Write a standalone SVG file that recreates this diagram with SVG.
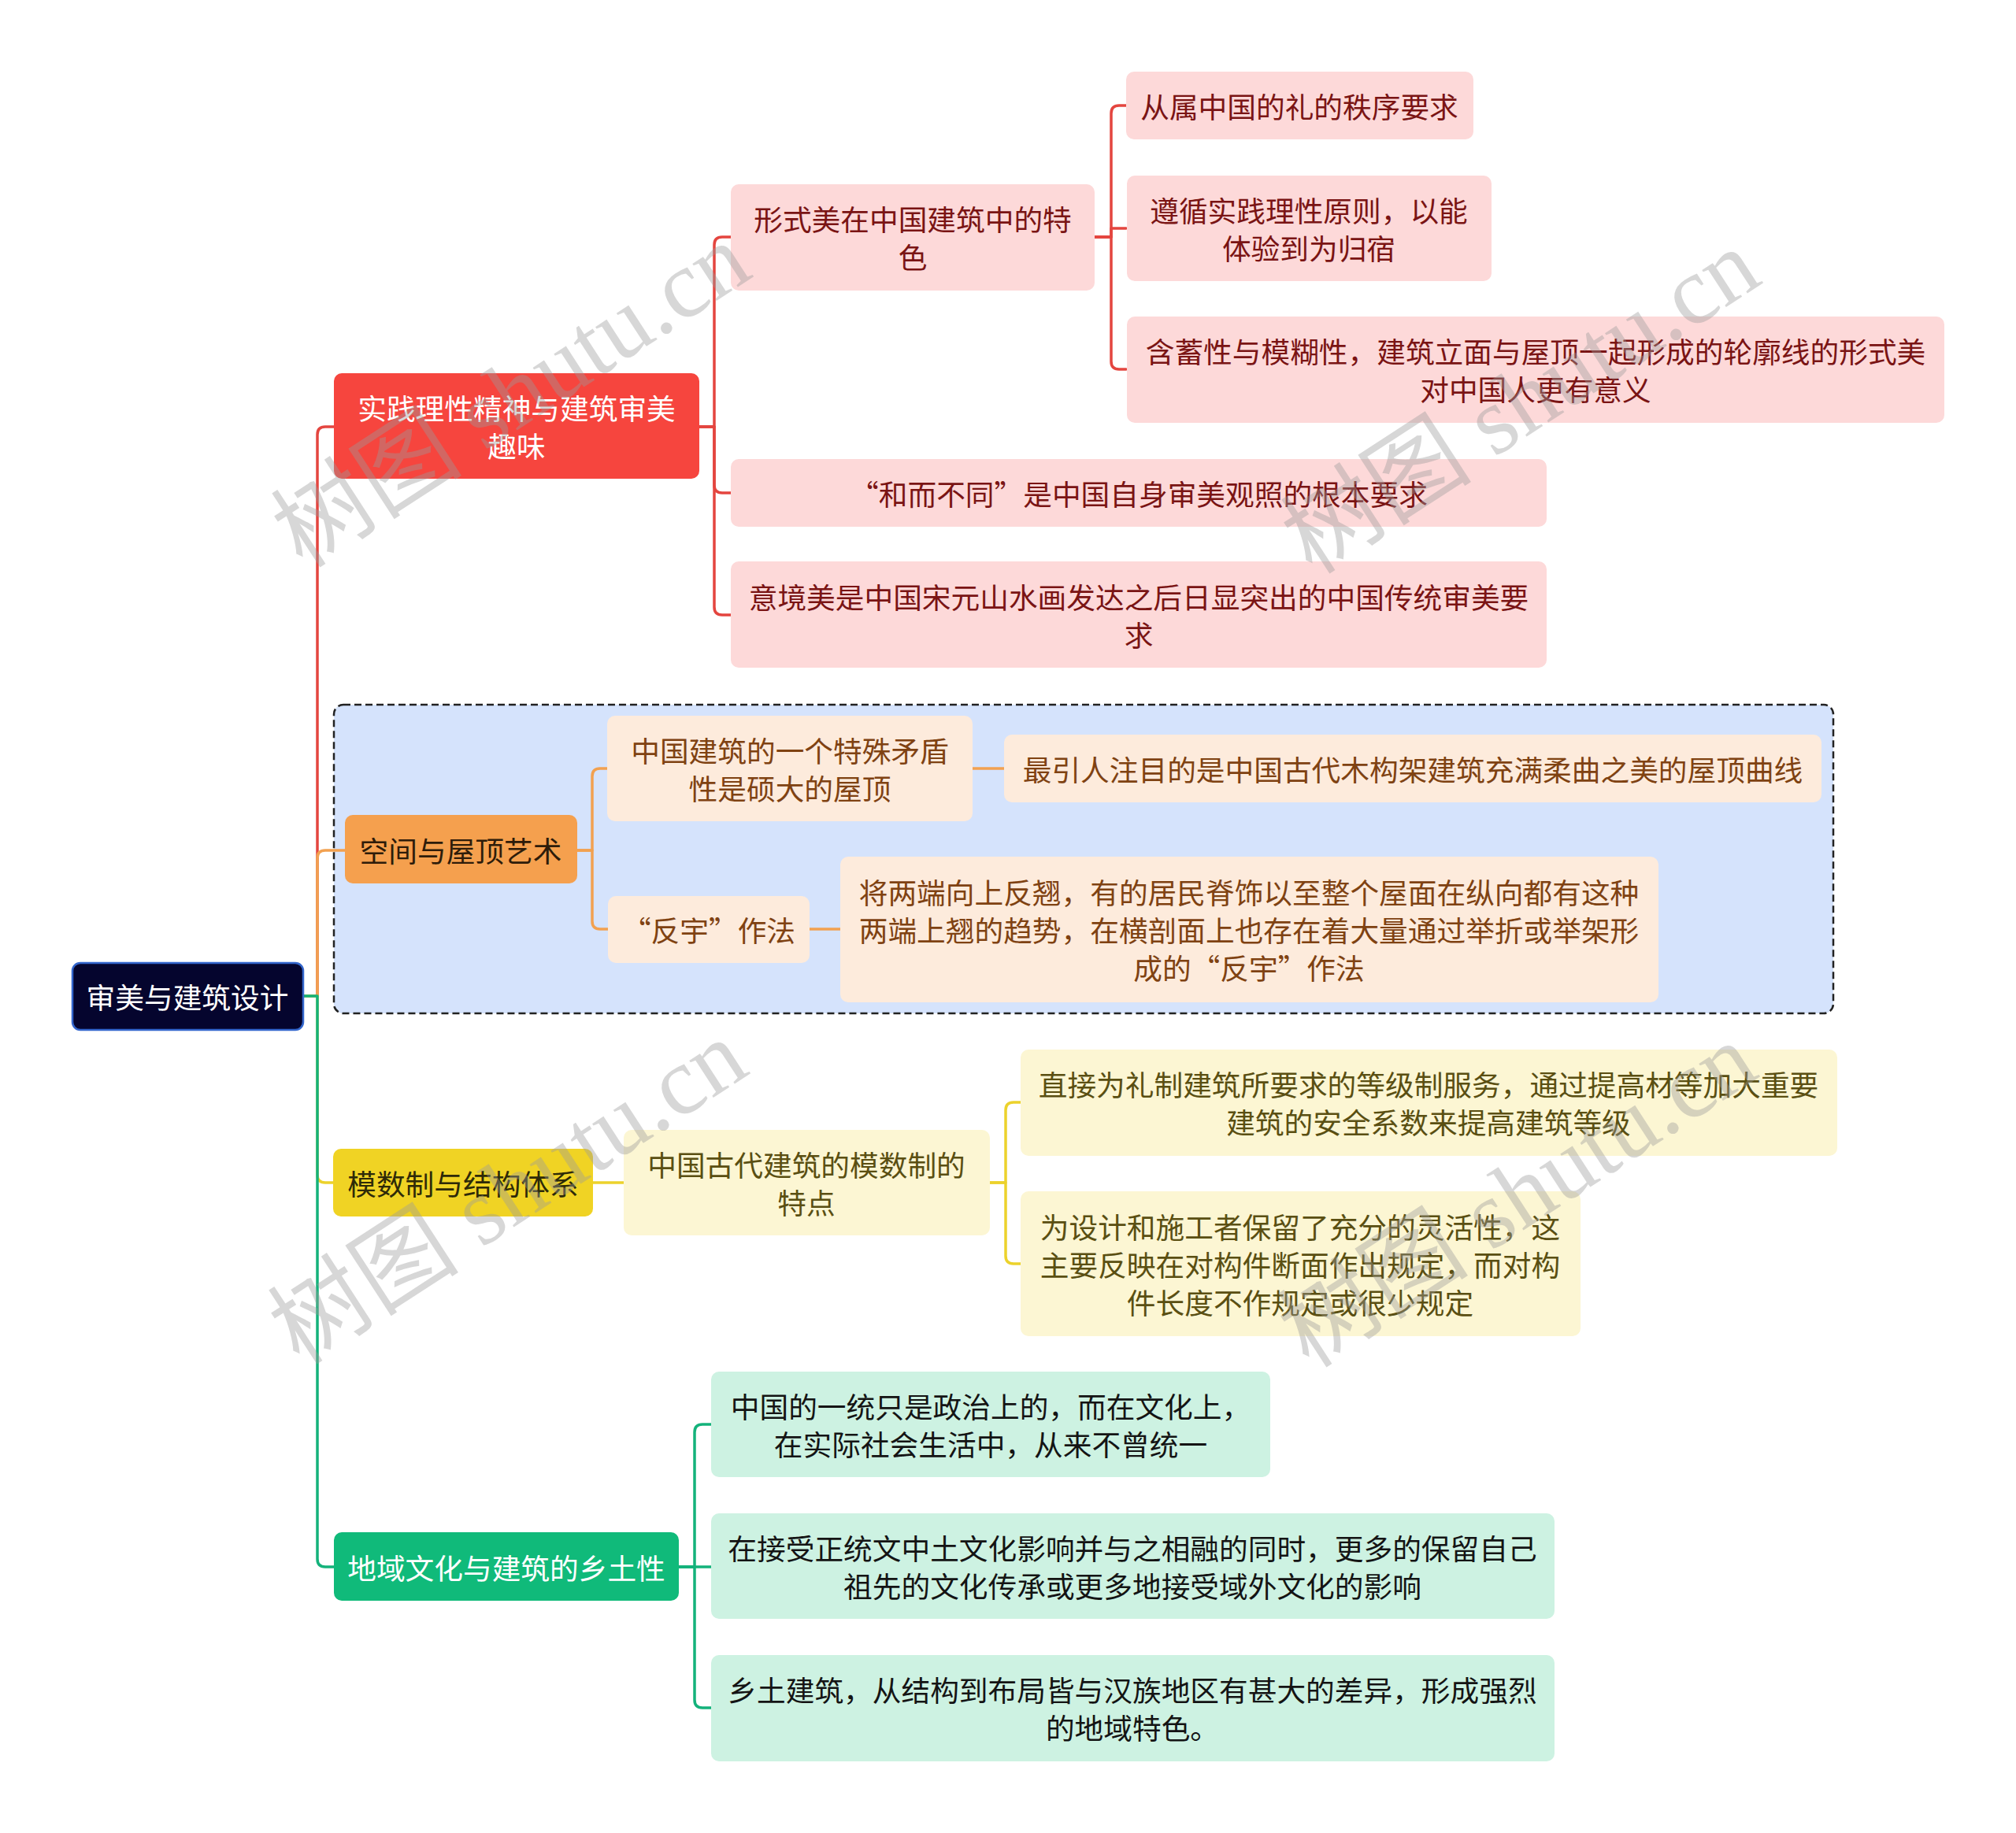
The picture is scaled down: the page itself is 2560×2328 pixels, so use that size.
<svg xmlns="http://www.w3.org/2000/svg" width="2560" height="2328" viewBox="0 0 2560 2328">
<style>
text{font-family:"Noto Sans CJK SC","Noto Sans",sans-serif;font-size:36.7px;text-anchor:middle;dominant-baseline:central}
.ln{fill:none;stroke-width:3.5;stroke-linejoin:round;stroke-linecap:round}
.red{stroke:#e4453f}.org{stroke:#f2a150}.yel{stroke:#ecd22c}.grn{stroke:#14b27b}
.root rect{fill:#05052e;stroke:#3366cc;stroke-width:2.5}
.root text{fill:#ffffff}
.b1 rect{fill:#f6453e}.b1 text{fill:#ffffff}
.c1 rect{fill:#fdd9d9}.c1 text{fill:#7a1414}
.b2 rect{fill:#f5a04e}.b2 text{fill:#2e1c0a}
.c2 rect{fill:#fdebdc}.c2 text{fill:#7f4212}
.b3 rect{fill:#f0d324}.b3 text{fill:#2e2a08}
.c3 rect{fill:#fcf6d3}.c3 text{fill:#5a4f12}
.b4 rect{fill:#10ba7a}.b4 text{fill:#ffffff}
.c4 rect{fill:#cdf2e2}.c4 text{fill:#141414}
.wm{font-family:"Liberation Serif","Noto Sans CJK SC",serif;font-size:122px;fill:#9a9a9a;fill-opacity:0.4;text-anchor:middle;dominant-baseline:central}
</style>

<g id="boundary">
<rect x="424" y="895" width="1904" height="392" rx="12" fill="#d5e3fc" stroke="#222" stroke-width="2.5" stroke-dasharray="9 5"/>
</g>

<g id="connectors">
<path class="ln red" d="M385,1265 H403 V552 Q403,542 413,542 H424"/>
<path class="ln org" d="M385,1265 H403 V1090 Q403,1080 413,1080 H438"/>
<path class="ln yel" d="M385,1265 H403 V1492 Q403,1502 413,1502 H424"/>
<path class="ln grn" d="M385,1265 H403 V1980 Q403,1990 413,1990 H424"/>

<path class="ln red" d="M888,542 H907 V311 Q907,301 917,301 H928"/>
<path class="ln red" d="M888,542 H907 V616 Q907,626 917,626 H928"/>
<path class="ln red" d="M888,542 H907 V771 Q907,781 917,781 H928"/>
<path class="ln red" d="M1390,301 H1411 V144 Q1411,134 1421,134 H1430"/>
<path class="ln red" d="M1390,301 H1411 V290 H1430"/>
<path class="ln red" d="M1390,301 H1411 V459 Q1411,469 1421,469 H1430"/>

<path class="ln org" d="M733,1080 H752 V986 Q752,976 762,976 H771"/>
<path class="ln org" d="M733,1080 H752 V1170 Q752,1180 762,1180 H772"/>
<path class="ln org" d="M1235,976 H1275"/>
<path class="ln org" d="M1028,1180 H1067"/>

<path class="ln yel" d="M753,1502 H792"/>
<path class="ln yel" d="M1257,1502 H1277 V1410 Q1277,1400 1287,1400 H1296"/>
<path class="ln yel" d="M1257,1502 H1277 V1595 Q1277,1605 1287,1605 H1296"/>

<path class="ln grn" d="M862,1990 H882 V1819 Q882,1809 892,1809 H903"/>
<path class="ln grn" d="M862,1990 H903"/>
<path class="ln grn" d="M862,1990 H882 V2159 Q882,2169 892,2169 H903"/>
</g>

<g id="root" class="root">
<rect x="92" y="1223" width="293" height="85" rx="10"/>
<text x="238" y="1265">审美与建筑设计</text>
</g>

<g id="b1" class="b1">
<rect x="424" y="474" width="464" height="134" rx="10"/>
<text x="656" y="517">实践理性精神与建筑审美</text>
<text x="656" y="565">趣味</text>
</g>
<g id="b1c1" class="c1">
<rect x="928" y="234" width="462" height="135" rx="10"/>
<text x="1159" y="277">形式美在中国建筑中的特</text>
<text x="1159" y="325">色</text>
</g>
<g id="b1c1a" class="c1">
<rect x="1430" y="91" width="441" height="86" rx="10"/>
<text x="1650" y="134">从属中国的礼的秩序要求</text>
</g>
<g id="b1c1b" class="c1">
<rect x="1431" y="223" width="463" height="134" rx="10"/>
<text x="1662" y="266">遵循实践理性原则，以能</text>
<text x="1662" y="314">体验到为归宿</text>
</g>
<g id="b1c1c" class="c1">
<rect x="1431" y="402" width="1038" height="135" rx="10"/>
<text x="1950" y="445">含蓄性与模糊性，建筑立面与屋顶一起形成的轮廓线的形式美</text>
<text x="1950" y="493">对中国人更有意义</text>
</g>
<g id="b1c2" class="c1">
<rect x="928" y="583" width="1036" height="86" rx="10"/>
<text x="1446" y="626">“和而不同”是中国自身审美观照的根本要求</text>
</g>
<g id="b1c3" class="c1">
<rect x="928" y="713" width="1036" height="135" rx="10"/>
<text x="1446" y="757">意境美是中国宋元山水画发达之后日显突出的中国传统审美要</text>
<text x="1446" y="805">求</text>
</g>

<g id="b2" class="b2">
<rect x="438" y="1035" width="295" height="87" rx="10"/>
<text x="585" y="1079">空间与屋顶艺术</text>
</g>
<g id="b2c1" class="c2">
<rect x="771" y="909" width="464" height="134" rx="10"/>
<text x="1003" y="952">中国建筑的一个特殊矛盾</text>
<text x="1003" y="1000">性是硕大的屋顶</text>
</g>
<g id="b2c1a" class="c2">
<rect x="1275" y="933" width="1038" height="86" rx="10"/>
<text x="1794" y="976">最引人注目的是中国古代木构架建筑充满柔曲之美的屋顶曲线</text>
</g>
<g id="b2c2" class="c2">
<rect x="772" y="1138" width="256" height="85" rx="10"/>
<text x="900" y="1180">“反宇”作法</text>
</g>
<g id="b2c2a" class="c2">
<rect x="1067" y="1088" width="1039" height="185" rx="10"/>
<text x="1586" y="1132">将两端向上反翘，有的居民脊饰以至整个屋面在纵向都有这种</text>
<text x="1586" y="1180">两端上翘的趋势，在横剖面上也存在着大量通过举折或举架形</text>
<text x="1586" y="1228">成的“反宇”作法</text>
</g>

<g id="b3" class="b3">
<rect x="423" y="1459" width="330" height="86" rx="10"/>
<text x="588" y="1502">模数制与结构体系</text>
</g>
<g id="b3c1" class="c3">
<rect x="792" y="1435" width="465" height="134" rx="10"/>
<text x="1024" y="1478">中国古代建筑的模数制的</text>
<text x="1024" y="1526">特点</text>
</g>
<g id="b3c1a" class="c3">
<rect x="1296" y="1333" width="1037" height="135" rx="10"/>
<text x="1814" y="1376">直接为礼制建筑所要求的等级制服务，通过提高材等加大重要</text>
<text x="1814" y="1424">建筑的安全系数来提高建筑等级</text>
</g>
<g id="b3c1b" class="c3">
<rect x="1296" y="1513" width="711" height="184" rx="10"/>
<text x="1651" y="1557">为设计和施工者保留了充分的灵活性，这</text>
<text x="1651" y="1605">主要反映在对构件断面作出规定，而对构</text>
<text x="1651" y="1653">件长度不作规定或很少规定</text>
</g>

<g id="b4" class="b4">
<rect x="424" y="1946" width="438" height="87" rx="10"/>
<text x="643" y="1990">地域文化与建筑的乡土性</text>
</g>
<g id="b4c1" class="c4">
<rect x="903" y="1742" width="710" height="134" rx="10"/>
<text x="1258" y="1785">中国的一统只是政治上的，而在文化上，</text>
<text x="1258" y="1833">在实际社会生活中，从来不曾统一</text>
</g>
<g id="b4c2" class="c4">
<rect x="903" y="1922" width="1071" height="134" rx="10"/>
<text x="1438" y="1965">在接受正统文中土文化影响并与之相融的同时，更多的保留自己</text>
<text x="1438" y="2013">祖先的文化传承或更多地接受域外文化的影响</text>
</g>
<g id="b4c3" class="c4">
<rect x="903" y="2102" width="1071" height="135" rx="10"/>
<text x="1438" y="2145">乡土建筑，从结构到布局皆与汉族地区有甚大的差异，形成强烈</text>
<text x="1438" y="2193">的地域特色。</text>
</g>

<g id="watermarks">
<text class="wm" transform="translate(649,502) rotate(-33)">树图 shutu.cn</text>
<text class="wm" transform="translate(1931,510) rotate(-33)">树图 shutu.cn</text>
<text class="wm" transform="translate(645,1514) rotate(-33)">树图 shutu.cn</text>
<text class="wm" transform="translate(1927,1518) rotate(-33)">树图 shutu.cn</text>
</g>
</svg>
